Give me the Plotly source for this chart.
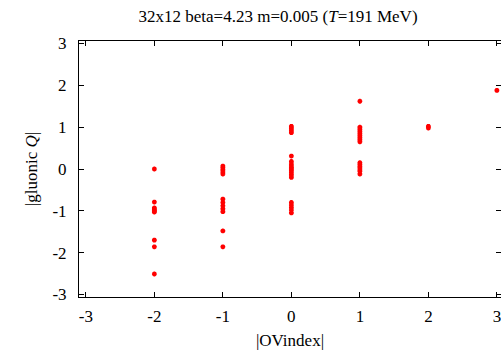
import plotly.graph_objects as go

# Data: x = |OVindex|, y = |gluonic Q|
x_m2 = [-2] * 9
y_m2 = [0.0, -0.79, -0.93, -0.97, -1.0, -1.03, -1.7, -1.86, -2.51]
x_m1 = [-1] * 12
y_m1 = [0.07, 0.03, -0.02, -0.07, -0.12, -0.72, -0.8, -0.88, -0.95, -1.02, -1.48, -1.86]
x_0 = [0] * 19
y_0 = [1.02, 0.97, 0.92, 0.87, 0.31, 0.18, 0.12, 0.07, 0.03, 0.0, -0.04, -0.09, -0.14, -0.2,
       -0.8, -0.86, -0.92, -0.98, -1.05]
x_1 = [1] * 15
y_1 = [1.62, 1.0, 0.95, 0.9, 0.85, 0.8, 0.75, 0.7, 0.65, 0.15, 0.1, 0.05, 0.0, -0.05, -0.12]
x_2 = [2, 2]
y_2 = [1.02, 0.98]
x_3 = [3]
y_3 = [1.88]

xs = x_m2 + x_m1 + x_0 + x_1 + x_2 + x_3
ys = y_m2 + y_m1 + y_0 + y_1 + y_2 + y_3

tick_vals = [-3, -2, -1, 0, 1, 2, 3]
tick_text = ["-3", "-2", "-1", "0", "1", "2", "3"]

font = dict(family="Liberation Serif, Times New Roman, serif", size=17, color="black")

fig = go.Figure()
fig.add_trace(go.Scatter(
    x=xs, y=ys, mode="markers",
    marker=dict(symbol="asterisk-open", size=4, color="red",
                line=dict(color="red", width=1.6)),
    showlegend=False, cliponaxis=False,
))

axis_common = dict(
    showgrid=False, zeroline=False, showline=True, linecolor="black", linewidth=1,
    mirror="allticks", ticks="inside", ticklen=5, tickcolor="black", tickwidth=1,
    tickvals=tick_vals, ticktext=tick_text, tickfont=font,
    ticklabeloverflow="allow",
)

fig.update_layout(
    width=501, height=353,
    margin=dict(l=79, r=0, t=41, b=56),
    paper_bgcolor="white", plot_bgcolor="white",
    font=font,
    title=dict(text="32x12 beta=4.23 m=0.005 (<i>T</i>=191 MeV)",
               x=0.555, xanchor="center", y=0.955, yanchor="middle",
               font=dict(family=font["family"], size=17, color="black")),
    xaxis=dict(range=[-3.1, 3.06], ticklabelstandoff=4,
               title=dict(text="|OVindex|", font=font, standoff=8), **axis_common),
    yaxis=dict(range=[-3.06, 3.06], ticklabelstandoff=8,
               title=dict(text="|gluonic <i>Q</i>|", font=font, standoff=10), **axis_common),
)

fig.write_html("out.html")
